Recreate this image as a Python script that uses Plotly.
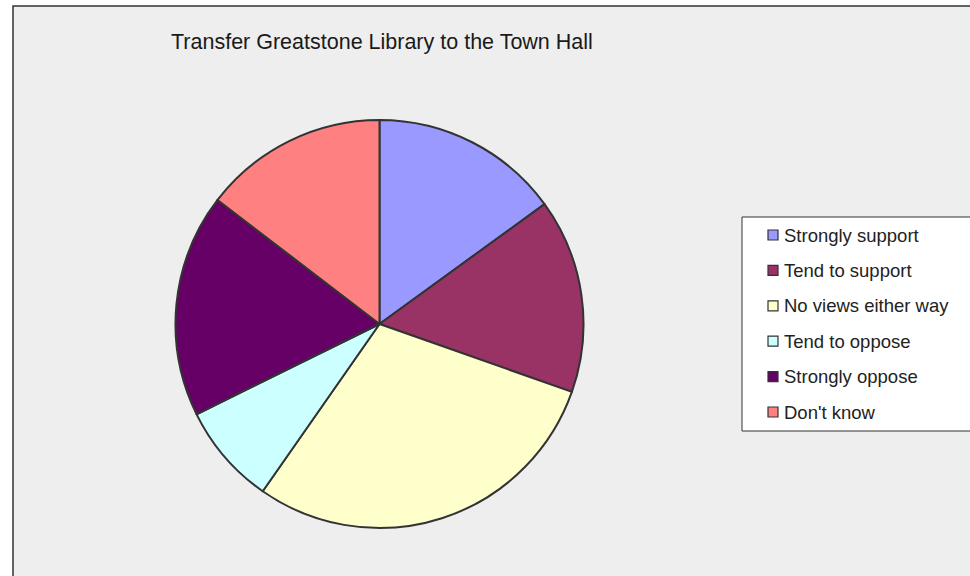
import plotly.graph_objects as go

W, H = 970, 576

title_text = "Transfer Greatstone Library to the Town Hall"
labels = ["Strongly support", "Tend to support", "No views either way",
          "Tend to oppose", "Strongly oppose", "Don't know"]
values = [15.0, 15.4, 29.3, 8.0, 17.7, 14.6]
colors = ["#9999FF", "#993366", "#FFFFCC", "#CCFFFF", "#660066", "#FF8080"]


def px(x):
    return x / W


def py(y):
    return 1 - y / H


cx, cy, r = 379.5, 324.0, 204.0

fig = go.Figure()
fig.add_trace(go.Pie(
    labels=labels,
    values=values,
    sort=False,
    direction="clockwise",
    rotation=0,
    marker=dict(colors=colors, line=dict(color="#333333", width=2)),
    textinfo="none",
    hoverinfo="label+percent",
    showlegend=False,
    domain=dict(x=[px(cx - r), px(cx + r)], y=[py(cy + r), py(cy - r)]),
))

shapes = [
    # chart area frame
    dict(type="rect", xref="paper", yref="paper", layer="below",
         x0=px(13), x1=px(990), y0=py(600), y1=py(6),
         fillcolor="#EEEEEE", line=dict(color="#333333", width=1.5)),
    # legend box
    dict(type="rect", xref="paper", yref="paper", layer="above",
         x0=px(742), x1=px(990), y0=py(431), y1=py(217),
         fillcolor="#FFFFFF", line=dict(color="#333333", width=1)),
]

annotations = [
    dict(text=title_text, xref="paper", yref="paper",
         x=px(169), y=py(42), xanchor="left", yanchor="middle",
         showarrow=False,
         font=dict(family="Liberation Sans, Arial, sans-serif", size=21.5,
                   color="#1a1a1a")),
]

row0, step = 235.0, 35.4
for i, (lab, col) in enumerate(zip(labels, colors)):
    yc = row0 + i * step
    shapes.append(dict(type="rect", xref="paper", yref="paper", layer="above",
                       x0=px(768), x1=px(778), y0=py(yc + 5), y1=py(yc - 5),
                       fillcolor=col, line=dict(color="#333333", width=1.2)))
    annotations.append(dict(text=lab, xref="paper", yref="paper",
                            x=px(782), y=py(yc), xanchor="left", yanchor="middle",
                            showarrow=False,
                            font=dict(family="Liberation Sans, Arial, sans-serif",
                                      size=18.5, color="#222222")))

fig.update_layout(
    width=W, height=H,
    margin=dict(l=0, r=0, t=0, b=0),
    paper_bgcolor="#FFFFFF",
    plot_bgcolor="#FFFFFF",
    shapes=shapes,
    annotations=annotations,
)

fig.write_html("out.html",
               config={"displayModeBar": False},
               post_script="document.body.style.margin='0';"
                           "document.body.style.padding='0';"
                           "document.body.style.overflow='hidden';")
